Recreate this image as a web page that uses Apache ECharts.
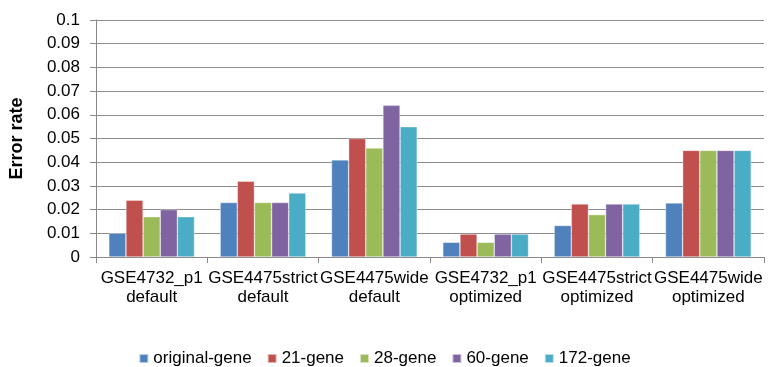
<!DOCTYPE html>
<html>
<head>
<meta charset="utf-8">
<script src="https://cdn.jsdelivr.net/npm/echarts@6/dist/echarts.min.js"></script>
<style>html,body{margin:0;padding:0;background:#fff}#c{width:769px;height:367px}</style>
</head>
<body>
<div id="c"></div>
<script>
const categories = ["GSE4732_p1\ndefault", "GSE4475strict\ndefault", "GSE4475wide\ndefault", "GSE4732_p1\noptimized", "GSE4475strict\noptimized", "GSE4475wide\noptimized"];
const seriesNames = ["original-gene", "21-gene", "28-gene", "60-gene", "172-gene"];
const originalGene = [0.010, 0.023, 0.041, 0.0062, 0.0133, 0.0228];
const gene21 = [0.024, 0.032, 0.050, 0.0097, 0.0224, 0.045];
const gene28 = [0.017, 0.023, 0.046, 0.0062, 0.0179, 0.045];
const gene60 = [0.020, 0.023, 0.064, 0.0097, 0.0224, 0.045];
const gene172 = [0.017, 0.027, 0.055, 0.0097, 0.0224, 0.045];
const colors = ["#4F81BD", "#C0504D", "#9BBB59", "#8064A2", "#4BACC6"];
const values = [originalGene, gene21, gene28, gene60, gene172];

const chart = echarts.init(document.getElementById('c'), null, {renderer: 'canvas'});
const font = 'Liberation Sans, Arial, sans-serif';
chart.setOption({
  animation: false,
  textStyle: {fontFamily: font},
  grid: {left: 87, right: 5, top: 20, bottom: 110, containLabel: false},
  legend: {
    data: seriesNames,
    top: 345,
    left: 'center',
    itemWidth: 9, itemHeight: 9, itemGap: 15,
    icon: 'rect',
    textStyle: {fontSize: 17, color: '#000', fontFamily: font}
  },
  xAxis: {
    type: 'category',
    data: categories,
    axisLine: {lineStyle: {color: '#888', width: 1}},
    axisTick: {show: true, length: 6, lineStyle: {color: '#888'}},
    axisLabel: {fontSize: 17, color: '#000', lineHeight: 19, margin: 12, interval: 0, fontFamily: font}
  },
  yAxis: {
    type: 'value',
    min: 0, max: 0.1, interval: 0.01,
    name: 'Error rate',
    nameLocation: 'middle',
    nameGap: 62,
    nameTextStyle: {fontSize: 18, fontWeight: 'bold', color: '#000', fontFamily: font, padding: [0, 0, 8, 0]},
    axisLine: {show: true, lineStyle: {color: '#888', width: 1}},
    axisTick: {show: true, length: 6, lineStyle: {color: '#888'}},
    splitLine: {lineStyle: {color: '#8c8c8c', width: 1}},
    axisLabel: {fontSize: 17, color: '#000', margin: 16, fontFamily: font,
      formatter: v => String(+v.toFixed(2))}
  },
  series: seriesNames.map((n, i) => ({
    name: n,
    type: 'bar',
    data: values[i],
    barGap: '0%',
    barCategoryGap: '23%',
    itemStyle: {color: colors[i], borderColor: 'rgba(255,255,255,0.6)', borderWidth: 0.6}
  }))
});
</script>
</body>
</html>
